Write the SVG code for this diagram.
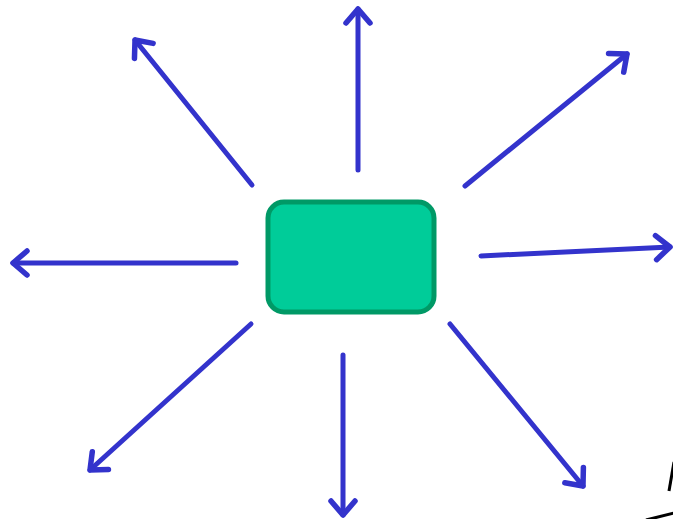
<svg xmlns="http://www.w3.org/2000/svg" width="673" height="519" viewBox="0 0 673 519">
<defs>
<style>
.c{stroke:#3333cc;stroke-width:5;fill:none;stroke-linecap:round}
.box{fill:#00cc99;stroke:#009966;stroke-width:5}
.k{stroke:#000;stroke-width:3;fill:none}
</style>
<marker id="ah" viewBox="-20 -15 25 30" refX="0" refY="0" markerWidth="25" markerHeight="30" markerUnits="userSpaceOnUse" orient="auto" overflow="visible">
<path d="M-14,-12 L0,0 L-14,12" fill="none" stroke="#3333cc" stroke-width="5.5" stroke-linecap="round" stroke-linejoin="round"/>
</marker>
</defs>
<g id="connectors">
<line class="c" x1="358" y1="170" x2="358" y2="9" marker-end="url(#ah)"/>
<line class="c" x1="252" y1="185" x2="135" y2="40" marker-end="url(#ah)"/>
<line class="c" x1="465" y1="186" x2="627" y2="54" marker-end="url(#ah)"/>
<line class="c" x1="481" y1="256" x2="670" y2="247" marker-end="url(#ah)"/>
<line class="c" x1="236" y1="263" x2="13" y2="263" marker-end="url(#ah)"/>
<line class="c" x1="251" y1="324" x2="90" y2="470" marker-end="url(#ah)"/>
<line class="c" x1="343" y1="355" x2="343" y2="515" marker-end="url(#ah)"/>
<line class="c" x1="450" y1="324" x2="583" y2="486" marker-end="url(#ah)"/>
</g>
<g id="node">
<rect class="box" x="268" y="202" width="166" height="110" rx="16"/>
</g>
<g id="partial">
<line class="k" x1="674" y1="462" x2="669" y2="491"/>
<line class="k" x1="646" y1="520" x2="674" y2="513"/>
</g>
</svg>
